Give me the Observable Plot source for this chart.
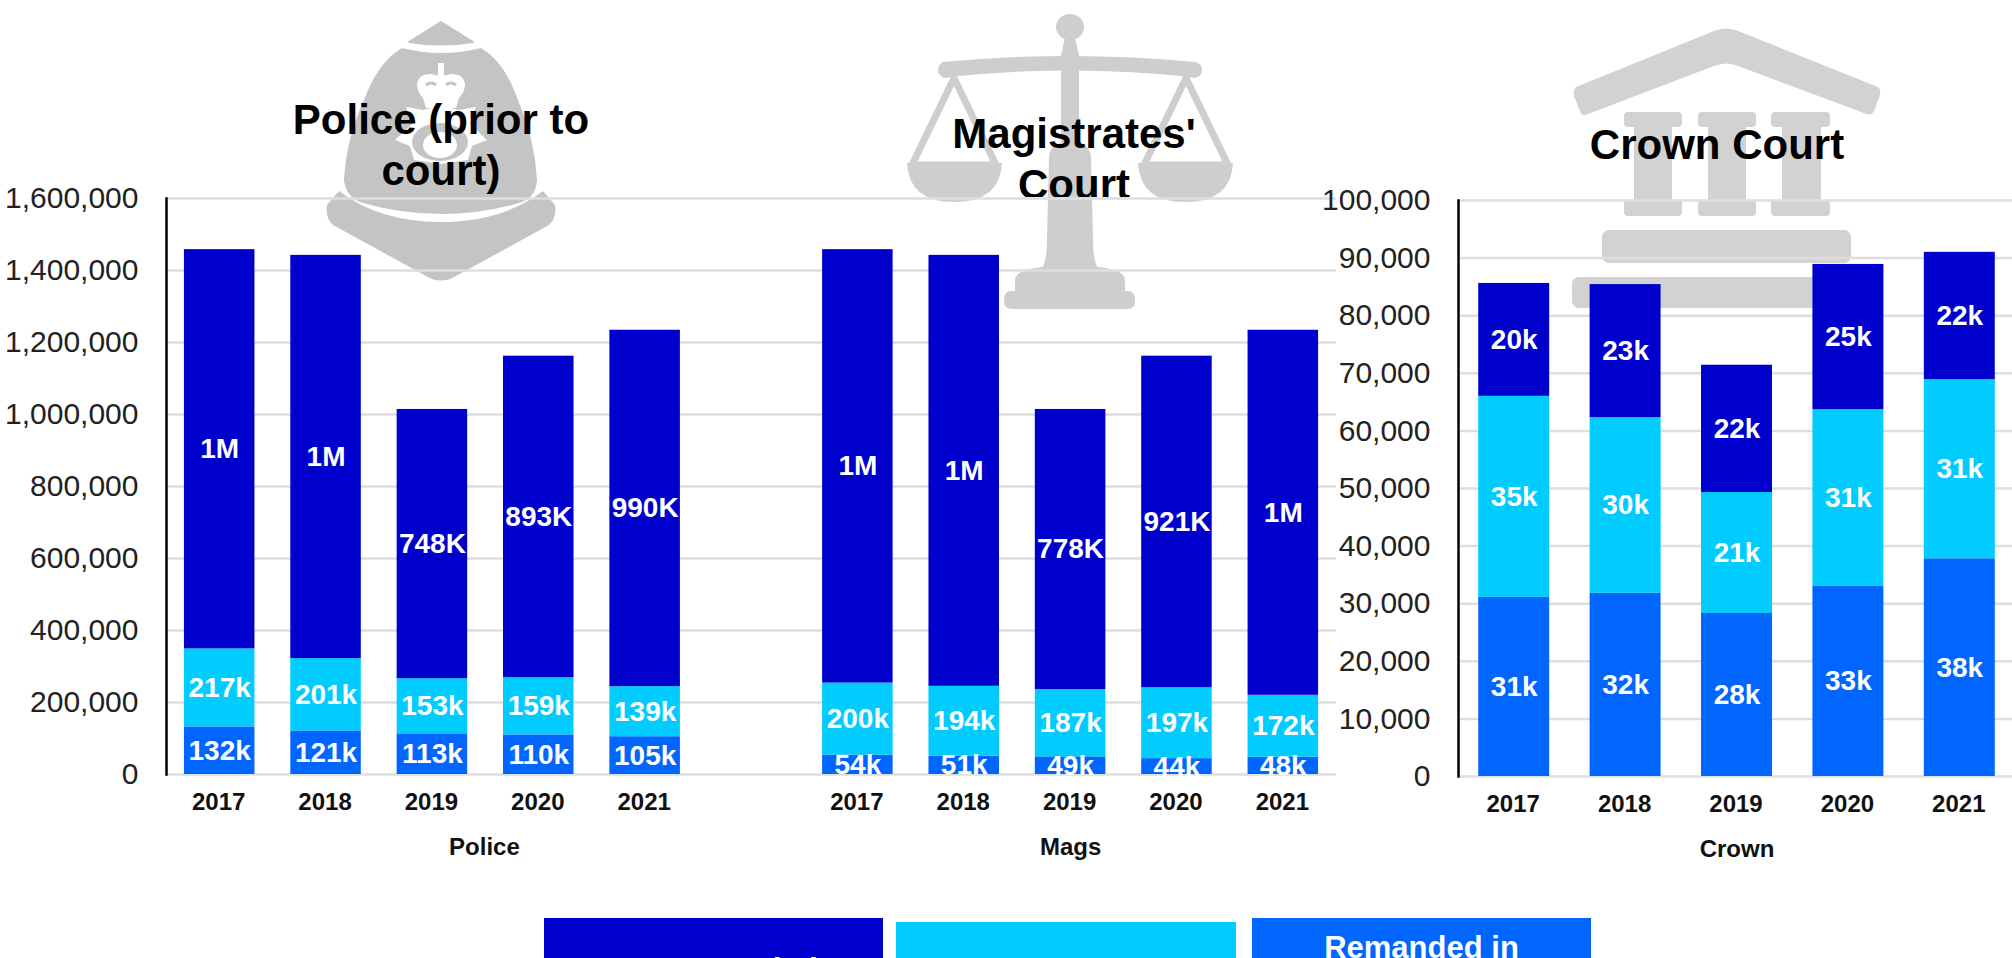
<!DOCTYPE html>
<html>
<head>
<meta charset="utf-8">
<script src="https://cdn.jsdelivr.net/npm/d3@7"></script>
<script src="https://cdn.jsdelivr.net/npm/@observablehq/plot@0.6"></script>
<style>
html,body{margin:0;padding:0;background:#fff;overflow:hidden}
#page{position:relative;width:2012px;height:958px;overflow:hidden;font-family:"Liberation Sans",Arial,sans-serif}
#icons{position:absolute;left:0;top:0}
.chart{position:absolute;top:0}
.chart svg{background:transparent;overflow:visible;display:block;max-width:none}
.title{position:absolute;font-weight:bold;font-size:42px;line-height:51px;color:#000;text-align:center;overflow:hidden}
.legend{position:absolute;height:100px;color:#fff;font-weight:bold;font-size:31px;line-height:36px;text-align:center;box-sizing:border-box}
</style>
</head>
<body>
<div id="page">
<svg id="icons" width="2012" height="958" viewBox="0 0 2012 958" aria-hidden="true">
  <g fill="#c4c4c4">
    <path d="M441 22L473 42Q441 47 409 42Z" stroke="#c4c4c4" stroke-width="2" stroke-linejoin="round"/>
    <path d="M402 48Q441 58 481 48Q505 62 518 100Q535 140 537 180Q536 198 519 203Q480 214 441 214Q402 214 363 203Q346 198 344 180Q346 140 364 100Q378 62 402 48Z"/>
    <path d="M339 191Q380 222 441 222Q502 222 543 191L555 205Q557 218 549 225L456 276Q441 285 426 276L333 225Q325 218 327 205Z"/>
    <g fill="#fff">
      <rect x="438" y="63" width="6" height="14"/>
      <path d="M417 84Q419 73 431 74Q441 76 441 76Q441 76 451 74Q463 73 465 84Q465 92 459 98L456 108H426L423 98Q417 92 417 84Z"/>
      <path d="M441 106L459 110L476 107L470 124L487 140L472 146L468 160L441 164L414 160L410 146L395 140L412 124L406 107L423 110Z"/>
    </g>
    <path d="M426 85Q431 81 436 85M446 85Q451 81 456 85" fill="none" stroke="#c4c4c4" stroke-width="3"/>
    <ellipse cx="440" cy="142" rx="28" ry="19"/>
    <ellipse cx="440" cy="145" rx="17" ry="13" fill="#fff"/>
  </g>
  <g fill="#cecece" stroke="none">
    <ellipse cx="1070" cy="27" rx="14" ry="13"/>
    <path d="M1065 38H1075L1079 55V143Q1091 146 1091 158L1093 240Q1093 260 1098 268H1042Q1047 260 1047 240L1049 158Q1049 146 1061 143V55Z"/>
    <path d="M1042 267H1098Q1125 270 1125 280V292H1015V280Q1015 270 1042 267Z"/>
    <rect x="1004" y="291" width="131" height="18" rx="7"/>
    <path d="M942 62Q1070 50 1196 62L1198 72L1192 77Q1070 64 948 77L940 72Z"/>
    <circle cx="946" cy="70" r="8"/><circle cx="1194" cy="70" r="8"/>
    <g fill="none" stroke="#cecece" stroke-width="7" stroke-linejoin="round">
      <path d="M954 78L912 165H996Z"/>
      <path d="M1186 78L1144 165H1228Z"/>
    </g>
    <path d="M907 163H1002Q1000 202 954 202Q909 202 907 163Z"/>
    <path d="M1138 163H1233Q1231 202 1185 202Q1140 202 1138 163Z"/>
  </g>
  <g fill="#d2d2d2">
    <path d="M1576 87L1714 31Q1726 26 1738 31L1878 87Q1882 90 1879 98L1874 111Q1871 117 1864 113L1738 66Q1726 61 1714 66L1588 114Q1582 117 1580 111L1574 96Q1573 90 1576 87Z"/>
    <rect x="1624" y="112" width="58" height="15" rx="4"/><rect x="1698" y="112" width="58" height="15" rx="4"/><rect x="1771" y="112" width="59" height="15" rx="4"/>
    <rect x="1634" y="125" width="38" height="78"/><rect x="1708" y="125" width="38" height="78"/><rect x="1782" y="125" width="39" height="78"/>
    <rect x="1624" y="200" width="58" height="16" rx="4"/><rect x="1698" y="200" width="58" height="16" rx="4"/><rect x="1771" y="200" width="59" height="16" rx="4"/>
    <rect x="1602" y="230" width="249" height="33" rx="7"/>
    <rect x="1572" y="277" width="308" height="31" rx="7"/>
  </g>
</svg>
<div class="chart" id="left" style="left:0"></div>
<div class="chart" id="right" style="left:1320px"></div>
<div class="title" style="left:241px;top:94px;width:400px">Police (prior to<br>court)</div>
<div class="title" style="left:874px;top:108px;width:400px;height:89px">Magistrates'<br>Court</div>
<div class="title" style="left:1517px;top:119px;width:400px">Crown Court</div>
<div class="legend" style="left:544px;top:918px;width:339px;background:#0000cc;padding-top:34px">Not remanded</div>
<div class="legend" style="left:896px;top:922px;width:340px;background:#00ccff"></div>
<div class="legend" style="left:1252px;top:918px;width:339px;background:#0066ff;padding-top:12px">Remanded in</div>
</div>
<script>
const years = ["2017","2018","2019","2020","2021"];
const statuses = ["Remanded in custody","Bail","Not remanded"];
const colors = ["#0066ff","#00ccff","#0000cc"];

const policeRemanded = [132000,121000,113000,110000,105000];
const policeBail     = [217000,201000,153000,159000,139000];
const policeNot      = [1109000,1120000,748000,893000,990000];
const policeRemandedLabels = ["132k","121k","113k","110k","105k"];
const policeBailLabels     = ["217k","201k","153k","159k","139k"];
const policeNotLabels      = ["1M","1M","748K","893K","990K"];

const magsRemanded = [54000,51000,49000,44000,48000];
const magsBail     = [200000,194000,187000,197000,172000];
const magsNot      = [1204000,1197000,778000,921000,1014000];
const magsRemandedLabels = ["54k","51k","49k","44k","48k"];
const magsBailLabels     = ["200k","194k","187k","197k","172k"];
const magsNotLabels      = ["1M","1M","778K","921K","1M"];

const crownRemanded = [31100,31800,28300,33000,37800];
const crownBail     = [34900,30500,21000,30700,31100];
const crownNot      = [19600,23100,22100,25200,22100];
const crownRemandedLabels = ["31k","32k","28k","33k","38k"];
const crownBailLabels     = ["35k","30k","21k","31k","31k"];
const crownNotLabels      = ["20k","23k","22k","25k","22k"];

const leftTicks = [0,200000,400000,600000,800000,1000000,1200000,1400000,1600000];
const rightTicks = [0,10000,20000,30000,40000,50000,60000,70000,80000,90000,100000];

function rows(group, series, labels) {
  return statuses.flatMap((status, s) => years.map((year, i) => ({
    key: group + "|" + year, status, value: series[s][i], label: labels[s][i]
  })));
}
const leftRows = [
  ...rows("Police", [policeRemanded, policeBail, policeNot], [policeRemandedLabels, policeBailLabels, policeNotLabels]),
  ...rows("Mags", [magsRemanded, magsBail, magsNot], [magsRemandedLabels, magsBailLabels, magsNotLabels])
];
const rightRows = rows("Crown", [crownRemanded, crownBail, crownNot], [crownRemandedLabels, crownBailLabels, crownNotLabels]);

const leftDomain = [...years.map(y => "Police|" + y), "gap", ...years.map(y => "Mags|" + y)];
const rightDomain = years.map(y => "Crown|" + y);
const font = '"Liberation Sans", Arial, sans-serif';
const yearOf = k => k === "gap" ? "" : k.split("|")[1];

function groupLabel(key, name, dx) {
  return Plot.text([name], {x: () => key, text: d => d, dx, frameAnchor: "bottom", dy: 80, fontSize: 24, fontWeight: "bold", fill: "#111"});
}

function panel({data, domain, ticks, yMax, width, height, marginLeft, marginTop, marginRight, paddingInner, paddingOuter, groups}) {
  return Plot.plot({
    width, height, marginLeft, marginTop, marginRight, marginBottom: height - (marginTop + 576),
    style: {fontFamily: font, background: "transparent", overflow: "visible"},
    x: {domain, paddingInner, paddingOuter, round: false, label: null},
    y: {domain: [0, yMax], label: null},
    color: {domain: statuses, range: colors},
    marks: [
      Plot.ruleY(ticks, {stroke: "#dedede", strokeWidth: 2.5}),
      Plot.barY(data, {x: "key", y: "value", fill: "status", z: "status"}),
      Plot.text(data, Plot.stackY({x: "key", y: "value", z: "status", text: "label", fill: "#fff", fontSize: 28, fontWeight: "bold"})),
      Plot.frame({anchor: "left", stroke: "#000", strokeWidth: 2.5}),
      Plot.axisY({ticks, tickSize: 0, tickPadding: 28, tickFormat: d3.format(","), fontSize: 30, fill: "#222", label: null}),
      Plot.axisX({tickSize: 0, tickPadding: 18, dx: -1, tickFormat: yearOf, fontSize: 24, fontWeight: "bold", fill: "#111", label: null}),
      ...groups
    ]
  });
}

document.getElementById("left").append(panel({
  data: leftRows, domain: leftDomain, ticks: leftTicks, yMax: 1600000,
  width: 1336, height: 864, marginLeft: 166, marginTop: 198, marginRight: 0,
  paddingInner: 0.337, paddingOuter: 0.1685,
  groups: [groupLabel("Police|2019", "Police", 52), groupLabel("Mags|2019", "Mags", 0)]
}));
document.getElementById("right").append(panel({
  data: rightRows, domain: rightDomain, ticks: rightTicks, yMax: 100000,
  width: 695, height: 866, marginLeft: 138, marginTop: 200, marginRight: 0,
  paddingInner: 0.363, paddingOuter: 0.1815,
  groups: [groupLabel("Crown|2019", "Crown", 0)]
}));
</script>
</body>
</html>
